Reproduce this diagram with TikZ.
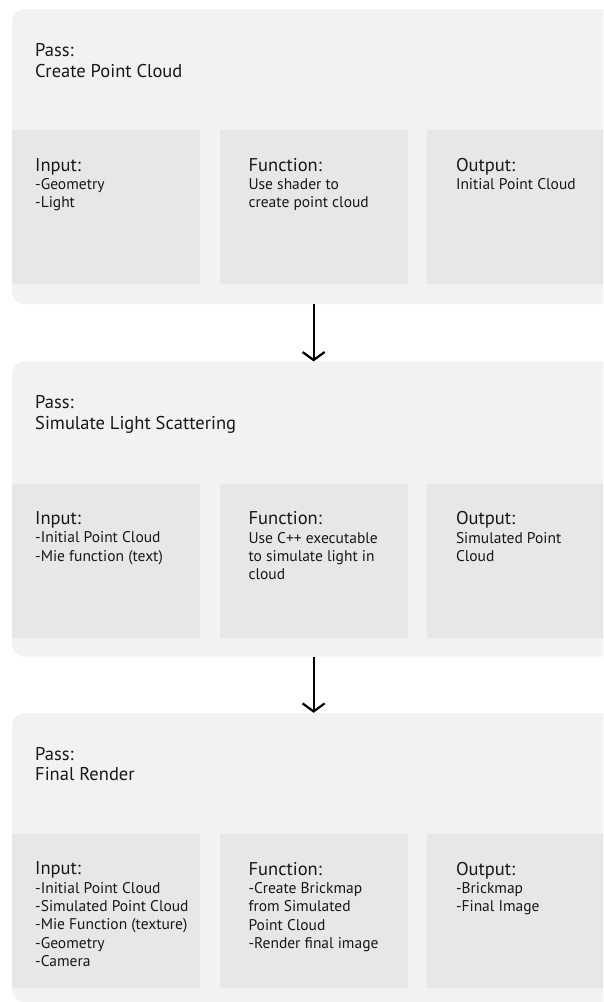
\documentclass[tikz,border=0pt]{standalone}
\usepackage{fontspec}
\setmainfont{PT Sans}
\usepackage{xcolor}
\usetikzlibrary{positioning,arrows.meta}
\definecolor{panelgray}{HTML}{F2F2F2}
\definecolor{cellgray}{HTML}{E6E7E8}
\definecolor{inkgray}{HTML}{1A1718}
\newcommand{\hd}[1]{{\fontsize{18.5}{18.3}\selectfont #1}}

\begin{document}
\begin{tikzpicture}[
  x=1pt, y=1pt,
  panel/.style={fill=panelgray, rounded corners=12pt, minimum width=620pt,
                minimum height=295pt, anchor=north west, inner sep=0pt},
  cell/.style={fill=cellgray, minimum width=188pt, minimum height=154pt,
               anchor=north west, inner sep=0pt},
  title/.style={anchor=north west, inner sep=0pt, align=left, text=inkgray,
                font=\fontsize{18.5}{20.7}\selectfont},
  body/.style={anchor=north west, inner sep=0pt, align=left, text=inkgray,
               font=\fontsize{15.5}{18.3}\selectfont},
  arrow/.style={-{Straight Barb[length=8pt,width=22pt]}, line width=2.2pt}
]
  \useasboundingbox (0,0) rectangle (603,-1002);
  \clip (0,0) rectangle (603,-1002);

  % pass 1
  \node[panel] (p1) at (12,-9) {};
  \node[title, below right=34pt and 23pt of p1.north west] (t1) {Pass:\\Create Point Cloud};
  \node[cell, below right=121pt and 0pt of p1.north west] (in1) {};
  \node[cell, right=19pt of in1] (fn1) {};
  \node[cell, right=19pt of fn1] (out1) {};
  \node[body, below right=28pt and 23pt of in1.north west] (in1t) {\hd{Input:}\\-Geometry\\-Light};
  \node[body, below right=28pt and 29pt of fn1.north west] (fn1t) {\hd{Function:}\\Use shader to\\create point cloud};
  \node[body, below right=28pt and 29pt of out1.north west] (out1t) {\hd{Output:}\\Initial Point Cloud};

  % pass 2
  \node[panel, below=57pt of p1] (p2) {};
  \node[title, below right=34pt and 23pt of p2.north west] (t2) {Pass:\\Simulate Light Scattering};
  \node[cell, below right=122pt and 0pt of p2.north west] (in2) {};
  \node[cell, right=19pt of in2] (fn2) {};
  \node[cell, right=19pt of fn2] (out2) {};
  \node[body, below right=28pt and 23pt of in2.north west] (in2t) {\hd{Input:}\\-Initial Point Cloud\\-Mie function (text)};
  \node[body, below right=28pt and 29pt of fn2.north west] (fn2t) {\hd{Function:}\\Use C++ executable\\to simulate light in\\cloud};
  \node[body, below right=28pt and 29pt of out2.north west] (out2t) {\hd{Output:}\\Simulated Point\\Cloud};

  % pass 3
  \node[panel, minimum height=289pt, below=56pt of p2] (p3) {};
  \node[title, below right=34pt and 23pt of p3.north west] (t3) {Pass:\\Final Render};
  \node[cell, below right=121pt and 0pt of p3.north west] (in3) {};
  \node[cell, right=19pt of in3] (fn3) {};
  \node[cell, right=19pt of fn3] (out3) {};
  \node[body, below right=28pt and 23pt of in3.north west] (in3t) {\hd{Input:}\\-Initial Point Cloud\\-Simulated Point Cloud\\-Mie Function (texture)\\-Geometry\\-Camera};
  \node[body, below right=28pt and 29pt of fn3.north west] (fn3t) {\hd{Function:}\\-Create Brickmap\\from Simulated\\Point Cloud\\-Render final image};
  \node[body, below right=28pt and 29pt of out3.north west] (out3t) {\hd{Output:}\\-Brickmap\\-Final Image};

  \draw[arrow] (fn1.south |- p1.south) -- (fn1.south |- p2.north);
  \draw[arrow] (fn2.south |- p2.south) -- (fn2.south |- p3.north);
\end{tikzpicture}
\end{document}
